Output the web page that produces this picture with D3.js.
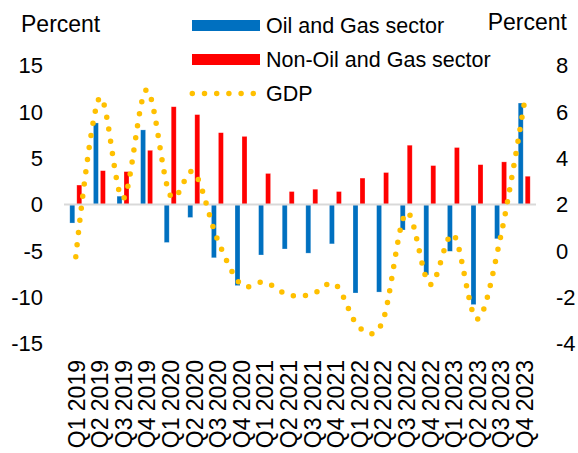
<!DOCTYPE html>
<html>
<head>
<meta charset="utf-8">
<script src="https://cdn.jsdelivr.net/npm/d3@7/dist/d3.min.js"></script>
<style>
  body { margin: 0; background: #fff; }
  svg text { font-family: "Liberation Sans", Arial, sans-serif; fill: #000; }
</style>
</head>
<body>
<svg id="chart"></svg>
<script>
var quarters = ["Q1 2019","Q2 2019","Q3 2019","Q4 2019","Q1 2020","Q2 2020","Q3 2020","Q4 2020",
                "Q1 2021","Q2 2021","Q3 2021","Q4 2021","Q1 2022","Q2 2022","Q3 2022","Q4 2022",
                "Q1 2023","Q2 2023","Q3 2023","Q4 2023"]
var oilGas = [-2.0, 8.8, 0.9, 8.05, -4.1, -1.4, -5.75, -8.75, -5.45, -4.8, -5.25, -4.25,
              -9.55, -9.45, -2.75, -7.6, -5.05, -10.8, -3.7, 10.95]
var nonOilGas = [2.1, 3.65, 3.55, 5.85, 10.55, 9.7, 7.75, 7.35, 3.35, 1.4, 1.65, 1.4,
                 2.85, 3.45, 6.4, 4.2, 6.15, 4.3, 4.6, 3.05]
var gdp = [-0.25, 6.6, 2.25, 6.95, 2.4, 3.4, 0.5, -1.45, -1.35, -1.9, -1.88, -1.45,
           -3.3, -3.05, 1.65, -1.45, 0.7, -2.95, 0.6, 6.35]
var leftTicks = [15, 10, 5, 0, -5, -10, -15]
var rightTicks = [8, 6, 4, 2, 0, -2, -4]
var legendItems = ["Oil and Gas sector", "Non-Oil and Gas sector", "GDP"]

var screen = {width:578, height:453}
var margins = {left:64, right:42, top:65.5, bottom:109.5}
var graph = {
    width: screen.width - margins.left - margins.right,
    height: screen.height - margins.top - margins.bottom
}

var svg = d3.select("#chart")
    .attr("width", screen.width)
    .attr("height", screen.height)

var xScale = d3.scaleBand()
    .domain(quarters)
    .range([margins.left, margins.left + graph.width])

var yLeft = d3.scaleLinear()
    .domain([-15, 15])
    .range([margins.top + graph.height, margins.top])

var yRight = d3.scaleLinear()
    .domain([-4, 8])
    .range([margins.top + graph.height, margins.top])

var center = function(q) { return xScale(q) + xScale.bandwidth()/2 }

// bars
svg.append("g").selectAll("rect")
    .data(quarters)
    .enter()
    .append("rect")
    .attr("x", function(q) { return center(q) - 6 })
    .attr("width", 5)
    .attr("y", function(q, i) { return yLeft(Math.max(0, oilGas[i])) })
    .attr("height", function(q, i) { return Math.abs(yLeft(oilGas[i]) - yLeft(0)) })
    .attr("fill", "#0070C0")
    .attr("stroke", "rgba(255,255,255,0.45)")
    .attr("stroke-width", 0.6)

svg.append("g").selectAll("rect")
    .data(quarters)
    .enter()
    .append("rect")
    .attr("x", function(q) { return center(q) + 1 })
    .attr("width", 5)
    .attr("y", function(q, i) { return yLeft(Math.max(0, nonOilGas[i])) })
    .attr("height", function(q, i) { return Math.abs(yLeft(nonOilGas[i]) - yLeft(0)) })
    .attr("fill", "#FF0000")
    .attr("stroke", "rgba(255,255,255,0.45)")
    .attr("stroke-width", 0.6)

// zero line
svg.append("line")
    .attr("x1", margins.left)
    .attr("x2", margins.left + graph.width)
    .attr("y1", yLeft(0))
    .attr("y2", yLeft(0))
    .attr("stroke", "#D9D9D9")
    .attr("stroke-width", 2)

// GDP smoothed dotted line
var line = d3.line()
    .x(function(d, i) { return center(quarters[i]) })
    .y(function(d) { return yRight(d) })
    .curve(d3.curveCardinal.tension(0))

svg.append("path")
    .datum(gdp)
    .attr("d", line)
    .attr("fill", "none")
    .attr("stroke", "#FFC000")
    .attr("stroke-width", 5.5)
    .attr("stroke-linecap", "round")
    .attr("stroke-dasharray", "0 12.2")

// axes labels
svg.append("g").selectAll("text")
    .data(leftTicks)
    .enter()
    .append("text")
    .attr("x", 43)
    .attr("y", function(d) { return yLeft(d) })
    .attr("dy", "0.36em")
    .attr("text-anchor", "end")
    .style("font-size", "22px")
    .text(function(d) { return d })

svg.append("g").selectAll("text")
    .data(rightTicks)
    .enter()
    .append("text")
    .attr("x", 556)
    .attr("y", function(d) { return yRight(d) })
    .attr("dy", "0.36em")
    .attr("text-anchor", "start")
    .style("font-size", "22px")
    .text(function(d) { return d })

svg.append("g").selectAll("text")
    .data(quarters)
    .enter()
    .append("text")
    .attr("transform", function(q) { return "translate(" + (center(q) + 0.5) + ",360) rotate(-90)" })
    .attr("dy", "0.36em")
    .attr("text-anchor", "end")
    .style("font-size", "23px")
    .text(function(q) { return q })

svg.append("text")
    .attr("x", 21)
    .attr("y", 32)
    .style("font-size", "23px")
    .text("Percent")

svg.append("text")
    .attr("x", 567)
    .attr("y", 30)
    .attr("text-anchor", "end")
    .style("font-size", "23px")
    .text("Percent")

// legend
var legendY = [25.5, 59.5, 93.5]
var legend = svg.append("g")
legend.append("rect")
    .attr("x", 192).attr("y", legendY[0] - 5.5)
    .attr("width", 68).attr("height", 11)
    .attr("fill", "#0070C0")
legend.append("rect")
    .attr("x", 192).attr("y", legendY[1] - 5.5)
    .attr("width", 68).attr("height", 11)
    .attr("fill", "#FF0000")
legend.append("line")
    .attr("x1", 192.3).attr("x2", 255)
    .attr("y1", legendY[2]).attr("y2", legendY[2])
    .attr("stroke", "#FFC000")
    .attr("stroke-width", 5.5)
    .attr("stroke-linecap", "round")
    .attr("stroke-dasharray", "0 12.2")
legend.selectAll("text")
    .data(legendItems)
    .enter()
    .append("text")
    .attr("x", 266)
    .attr("y", function(d, i) { return legendY[i] })
    .attr("dy", "0.36em")
    .style("font-size", "21.5px")
    .text(function(d) { return d })
</script>
</body>
</html>
